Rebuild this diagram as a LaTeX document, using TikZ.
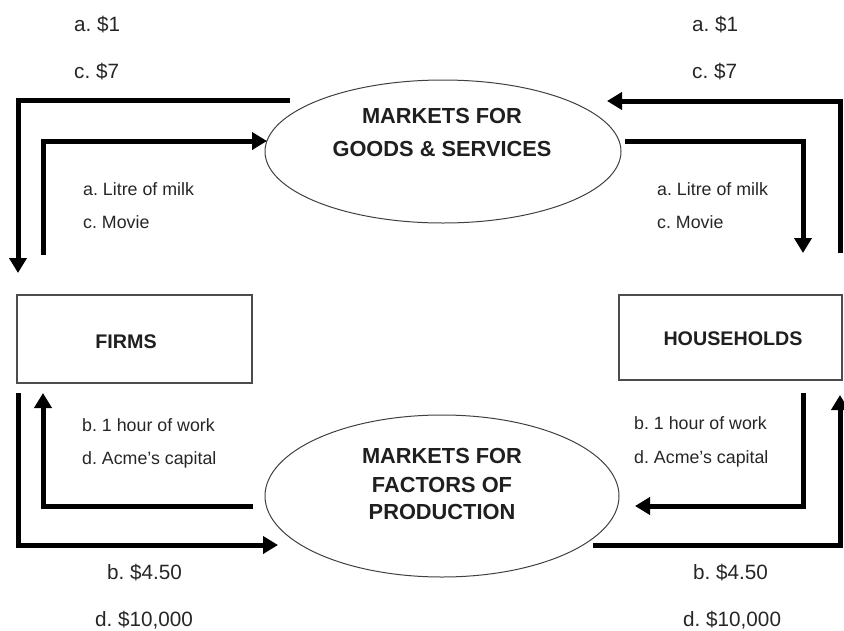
\documentclass[tikz,border=0pt]{standalone}
\usepackage{fontspec}
\setmainfont{Liberation Sans}
\usetikzlibrary{arrows.meta,shapes.geometric}
\frenchspacing
\begin{document}
\begin{tikzpicture}[x=1pt,y=-1pt,
  flow/.style={line width=5pt, line join=miter, -{Triangle[length=15pt,width=17pt]}},
  market/.style={ellipse, draw=black!75, line width=1pt, inner sep=0pt},
  agent/.style={draw=black!70, line width=1.2pt, inner sep=0pt},
  mtext/.style={font=\fontsize{21.8}{26}\selectfont\bfseries, text=black!88, anchor=base, inner sep=0pt},
  atext/.style={font=\fontsize{19.7}{24}\selectfont\bfseries, text=black!88, anchor=base, inner sep=0pt},
  money/.style={font=\fontsize{20.7}{24}\selectfont, text=black!85, anchor=base west, inner sep=0pt},
  item/.style={font=\fontsize{17.8}{22}\selectfont, text=black!85, anchor=base west, inner sep=0pt}]
\useasboundingbox (0,0) rectangle (844,630);

% markets
\node[market, minimum width=356pt, minimum height=143pt] (gs) at (443,151.5) {};
\node[market, minimum width=354pt, minimum height=162pt] (fp) at (442,496) {};
\node[mtext] (gs1) at (442,123) {MARKETS FOR};
\node[mtext] (gs2) at (442,156) {GOODS \& SERVICES};
\node[mtext] (fp1) at (442,463) {MARKETS FOR};
\node[mtext] (fp2) at (442,492) {FACTORS OF};
\node[mtext] (fp3) at (442,519) {PRODUCTION};

% agents
\node[agent, minimum width=235pt, minimum height=88pt] (firms) at (134.5,339) {};
\node[atext] (firmst) at (126,348) {FIRMS};
\node[agent, minimum width=223pt, minimum height=85pt] (hh) at (730.5,337.5) {};
\node[atext] (hht) at (733,345) {HOUSEHOLDS};

% coordinates for the flows
\coordinate (tlo1) at (290,100); \coordinate (tlo2) at (18,273);
\coordinate (tli1) at (43,255);  \coordinate (tli2) at (267,141);
\coordinate (tro1) at (840,253); \coordinate (tro2) at (607,101);
\coordinate (tri1) at (625,141); \coordinate (tri2) at (803,253);
\coordinate (blo1) at (18,393);  \coordinate (blo2) at (278,545);
\coordinate (bli1) at (253,506); \coordinate (bli2) at (43,393);
\coordinate (bri1) at (803,393); \coordinate (bri2) at (635,506);
\coordinate (bro1) at (593,545); \coordinate (bro2) at (840,395);

\draw[flow] (tlo1) -| (tlo2);
\draw[flow] (tli1) |- (tli2);
\draw[flow] (tro1) |- (tro2);
\draw[flow] (tri1) -| (tri2);
\draw[flow] (blo1) |- (blo2);
\draw[flow] (bli1) -| (bli2);
\draw[flow] (bri1) |- (bri2);
\draw[flow] (bro1) -| (bro2);

% money labels
\node[money] (la1) at (74,31) {a. \$1};
\node[money] (lc7) at (74,78) {c. \$7};
\node[money] (ra1) at (692,31) {a. \$1};
\node[money] (rc7) at (692,78) {c. \$7};
\node[money] (lb) at (107,579) {b. \$4.50};
\node[money] (ld) at (95,626) {d. \$10,000};
\node[money] (rb) at (693,579) {b. \$4.50};
\node[money] (rd) at (683,626) {d. \$10,000};

% item labels
\node[item] (lmilk) at (83,195) {a. Litre of milk};
\node[item] (lmovie) at (83,228) {c. Movie};
\node[item] (rmilk) at (657,195) {a. Litre of milk};
\node[item] (rmovie) at (657,228) {c. Movie};
\node[item] (lwork) at (82,431) {b. 1 hour of work};
\node[item] (lcap) at (82,464) {d. Acme{\char"0027}s capital};
\node[item] (rwork) at (634,429) {b. 1 hour of work};
\node[item] (rcap) at (634,463) {d. Acme{\char"0027}s capital};
\end{tikzpicture}
\end{document}
